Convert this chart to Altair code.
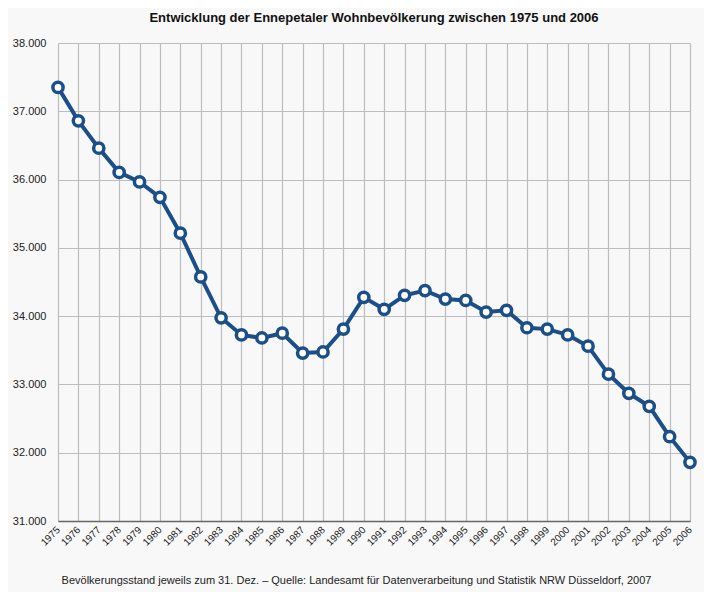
import altair as alt
import pandas as pd

years = list(range(1975, 2007))
population = [37350, 36860, 36460, 36105, 35965, 35740, 35215, 34575, 33975,
              33725, 33680, 33750, 33460, 33475, 33810, 34275, 34100, 34305,
              34375, 34250, 34230, 34060, 34085, 33830, 33810, 33725, 33560,
              33150, 32870, 32680, 32235, 31860]

df = pd.DataFrame({"Jahr": years, "Einwohner": population})

blue = "#1c4f88"

x = alt.X("Jahr:Q",
          scale=alt.Scale(domain=[1975, 2006], nice=False, zero=False),
          axis=alt.Axis(values=years, format="d", labelAngle=-45, labelAlign="right",
                        labelBaseline="middle", labelPadding=7, labelFontSize=10,
                        labelFont="Liberation Sans", labelColor="#222", labelOverlap=False,
                        labelFlush=False,
                        grid=True, gridColor="#bdbdbd", gridWidth=1.2,
                        ticks=False, domain=True, domainColor="#666", domainWidth=1.5,
                        title="Bevölkerungsstand jeweils zum 31. Dez. – Quelle: Landesamt für Datenverarbeitung und Statistik NRW  Düsseldorf, 2007",
                        titleFont="Liberation Sans", titleFontSize=11, titleFontWeight="normal",
                        titleColor="#222", titlePadding=27, titleX=298, titleAlign="center"))
y = alt.Y("Einwohner:Q",
          scale=alt.Scale(domain=[31000, 38000], nice=False, zero=False),
          axis=alt.Axis(values=list(range(31000, 38001, 1000)),
                        labelExpr="replace(format(datum.value, ','), ',', '.')",
                        labelFont="Liberation Sans", labelFontSize=11, labelColor="#222",
                        labelPadding=12, labelFlush=False, grid=True, gridColor="#bdbdbd",
                        gridWidth=1.2, ticks=False, domain=False, title=None))

line = alt.Chart(df).mark_line(color=blue, strokeWidth=4).encode(x=x, y=y)
points = alt.Chart(df).mark_point(filled=True, fill="white", stroke=blue, strokeWidth=3.5,
                                  size=105, opacity=1).encode(x=x, y=y)

chart = (line + points).properties(
    width=632, height=478,
    title=alt.TitleParams("Entwicklung der Ennepetaler Wohnbevölkerung zwischen 1975 und 2006",
                          font="Liberation Sans", fontSize=13, fontWeight="bold",
                          color="#111", anchor="middle", offset=12),
    background="#f8f8f8",
    padding={"left": 50, "top": 35, "right": 14, "bottom": 71},
    autosize=alt.AutoSizeParams(type="none"),
).configure_view(stroke=None)

chart.save("out.html", embed_options={"renderer": "svg", "actions": False})
